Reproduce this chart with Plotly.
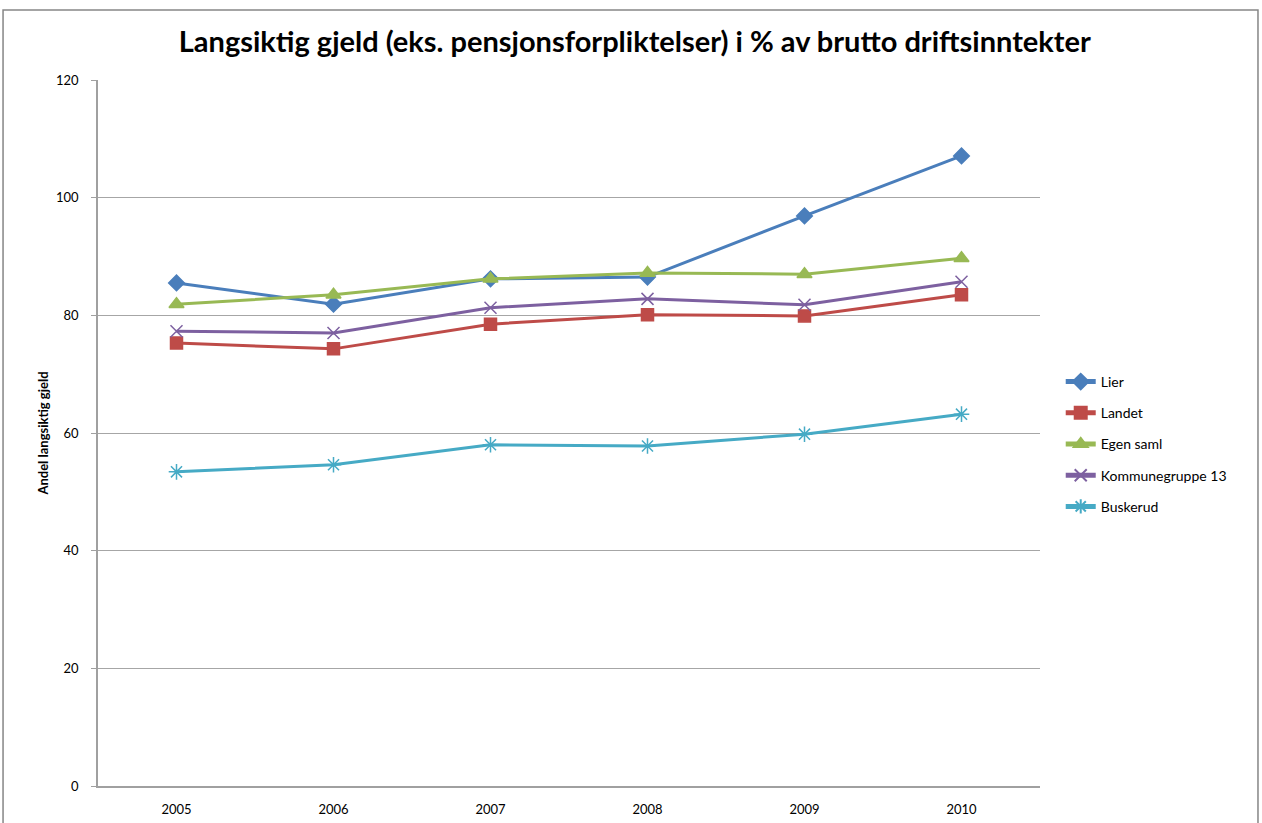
import plotly.graph_objects as go

years = ["2005", "2006", "2007", "2008", "2009", "2010"]
lier = [85.5, 81.9, 86.2, 86.5, 96.9, 107.1]
landet = [75.3, 74.3, 78.5, 80.1, 79.9, 83.5]
egen_saml = [81.9, 83.5, 86.2, 87.2, 87.0, 89.7]
kommunegruppe13 = [77.3, 77.0, 81.3, 82.8, 81.8, 85.7]
buskerud = [53.4, 54.6, 58.0, 57.8, 59.8, 63.2]

series = [
    ("Lier", lier, "#4A7EBB", "diamond", 12),
    ("Landet", landet, "#BE4B48", "square", 12),
    ("Egen saml", egen_saml, "#98B954", "triangle-up", 13),
    ("Kommunegruppe 13", kommunegruppe13, "#7D60A0", "x-thin-open", 12),
    ("Buskerud", buskerud, "#46AAC5", "asterisk-open", 13),
]

fig = go.Figure()
for name, vals, color, sym, size in series:
    fig.add_trace(go.Scatter(
        x=years, y=vals, name=name, mode="lines+markers", legendgroup=name,
        line=dict(color=color, width=3),
        marker=dict(symbol=sym, size=size, color=color,
                    line=dict(color=color, width=1.5)),
    ))

font = "Lato, Calibri, sans-serif"
fig.update_layout(
    width=1262, height=823,
    margin=dict(l=98, r=222, t=80, b=37, autoexpand=False),
    paper_bgcolor="white", plot_bgcolor="white",
    font=dict(family=font, size=13, color="#000000"),
    title=dict(text="<b>Langsiktig gjeld (eks. pensjonsforpliktelser) i % av brutto driftsinntekter</b>",
               x=0.503, xref="container", y=0.949, yanchor="middle",
               font=dict(family=font, size=29, color="#000000")),
    showlegend=True,
    legend=dict(x=1.022, xanchor="left", y=0.4844, yanchor="middle",
                font=dict(family=font, size=14), tracegroupgap=10,
                itemsizing="constant", bgcolor="rgba(0,0,0,0)"),
    xaxis=dict(type="category", range=[-0.5, 5.5], showgrid=False, automargin=False,
               showline=True, linecolor="#A0A0A0", linewidth=1.5,
               ticks="", tickfont=dict(size=13), ticklabelstandoff=11, fixedrange=True),
    yaxis=dict(range=[0, 120], dtick=20, showgrid=True, gridcolor="#A6A6A6", automargin=False,
               gridwidth=1, showline=True, linecolor="#A0A0A0", linewidth=1.5,
               ticks="outside", ticklen=5, tickcolor="#A0A0A0",
               ticklabelstandoff=10,
               tickfont=dict(size=13), zeroline=False,
               title=dict(text="<b>Andel langsiktig gjeld</b>", font=dict(size=13), standoff=4)),
    shapes=[dict(type="rect", xref="paper", yref="paper",
                 x0=-0.1008, x1=1.2314, y0=-0.2, y1=1.099,
                 line=dict(color="#868686", width=1.5), fillcolor="rgba(0,0,0,0)", layer="below")],
)

fig.write_html("out.html", config={"displayModeBar": False},
               post_script="document.body.style.margin='0';")
